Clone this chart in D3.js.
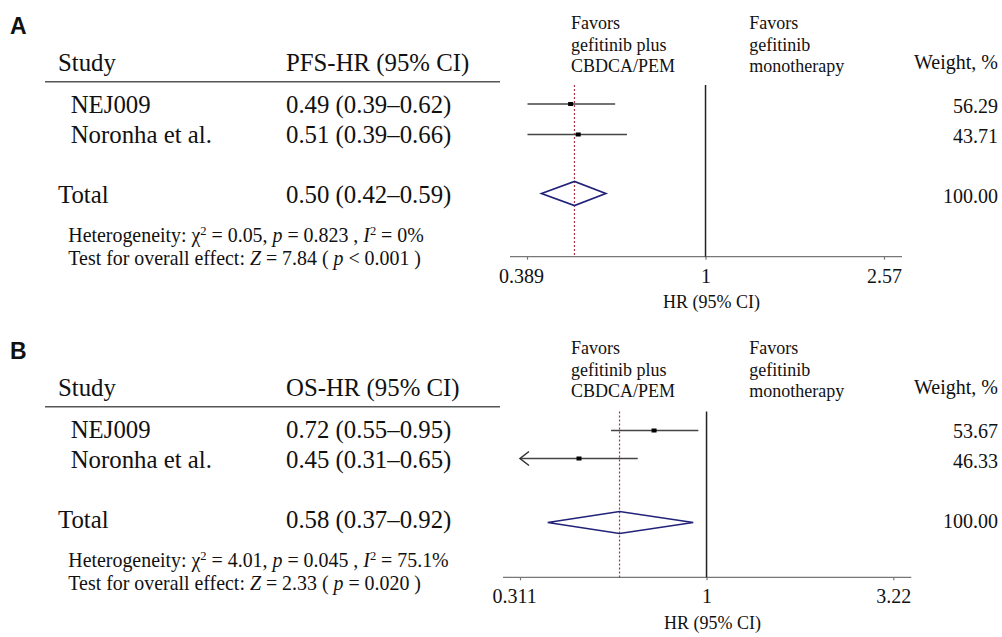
<!DOCTYPE html>
<html>
<head>
<meta charset="utf-8">
<script src="https://cdn.jsdelivr.net/npm/d3@7"></script>
<style>
    body { margin: 0; background: #fff; }
    svg { display: block; }
    text { font-family: "Liberation Serif", "Times New Roman", serif; fill: #111; }
</style>
</head>
<body>
<script>
let studies = ["NEJ009", "Noronha et al."]

let pfsHR = [0.49, 0.51]
let pfsLow = [0.39, 0.39]
let pfsHigh = [0.62, 0.66]
let pfsWeight = ["56.29", "43.71"]
let pfsTotal = [0.50, 0.42, 0.59]
let pfsTicks = [0.389, 1, 2.57]

let osHR = [0.72, 0.45]
let osLow = [0.55, 0.31]
let osHigh = [0.95, 0.65]
let osWeight = ["53.67", "46.33"]
let osTotal = [0.58, 0.37, 0.92]
let osTicks = [0.311, 1, 3.22]

let panels = [
    {
        label: "A", measure: "PFS-HR (95% CI)", hr: pfsHR, low: pfsLow, high: pfsHigh,
        weight: pfsWeight, total: pfsTotal, ticks: pfsTicks, tickText: ["0.389", "1", "2.57"],
        het: ["0.05", "0.823", "0%"], z: ["7.84", "<", "0.001"],
        top: 0, range: [527, 884], axisY: 256.7, lineTop: 85, rows: [104, 134.5, 193.5], dh: 12
    },
    {
        label: "B", measure: "OS-HR (95% CI)", hr: osHR, low: osLow, high: osHigh,
        weight: osWeight, total: osTotal, ticks: osTicks, tickText: ["0.311", "1", "3.22"],
        het: ["4.01", "0.045", "75.1%"], z: ["2.33", "=", "0.020"],
        top: 325, range: [520, 893.3], axisY: 577.3, lineTop: 411.5, rows: [430.5, 458.5, 522.5], dh: 11
    }
]

let w = 1002
let h = 637
let serif = "'Liberation Serif', 'Times New Roman', serif"
let svg = d3.select("body").append("svg")
    .attr("width", w)
    .attr("height", h)

panels.forEach(p=>{
    let g = svg.append("g")
    let t = p.top
    let x = d3.scaleLog()
        .domain([p.ticks[0], p.ticks[2]])
        .range(p.range)

    g.append("text")
        .attr("x", 10).attr("y", t + 33.5)
        .style("font-family", "'Liberation Sans', Arial, sans-serif")
        .style("font-weight", "bold")
        .style("font-size", "23px")
        .text(p.label)

    // table side
    g.append("text").attr("x", 58).attr("y", t + 71).style("font-size", "24.8px").text("Study")
    g.append("text").attr("x", 286).attr("y", t + 71).style("font-size", "24.8px").text(p.measure)
    g.append("line")
        .attr("x1", 45).attr("x2", 500)
        .attr("y1", t + 81.7).attr("y2", t + 81.7)
        .attr("stroke", "#555").attr("stroke-width", 1.5)

    let textY = [t + 113.3, t + 143.3, t + 203.3]
    let rowLabels = studies.concat(["Total"])
    let rowValues = p.hr.map((d, i)=>`${d.toFixed(2)} (${p.low[i].toFixed(2)}\u2013${p.high[i].toFixed(2)})`)
        .concat([`${p.total[0].toFixed(2)} (${p.total[1].toFixed(2)}\u2013${p.total[2].toFixed(2)})`])
    let rowWeights = p.weight.concat(["100.00"])

    g.selectAll(".name")
        .data(rowLabels)
        .enter()
        .append("text")
        .attr("x", (d, i)=>i < 2 ? 70.7 : 58)
        .attr("y", (d, i)=>textY[i])
        .style("font-size", "24.8px")
        .text(d=>d)
    g.selectAll(".val")
        .data(rowValues)
        .enter()
        .append("text")
        .attr("x", 286)
        .attr("y", (d, i)=>textY[i])
        .style("font-size", "24.8px")
        .text(d=>d)
    g.selectAll(".wt")
        .data(rowWeights)
        .enter()
        .append("text")
        .attr("x", 998)
        .attr("y", (d, i)=>textY[i])
        .attr("text-anchor", "end")
        .style("font-family", serif)
        .style("font-size", "20px")
        .text(d=>d)
    g.append("text")
        .attr("x", 998).attr("y", t + 69)
        .attr("text-anchor", "end")
        .style("font-family", serif)
        .style("font-size", "20px")
        .text("Weight, %")

    let het = g.append("text").attr("x", 68.3).attr("y", t + 241.7).style("font-size", "19.9px")
    het.append("tspan").text("Heterogeneity: \u03c7")
    het.append("tspan").attr("dy", -7).style("font-size", "12.5px").text("2")
    het.append("tspan").attr("dy", 7).text(` = ${p.het[0]}, `)
    het.append("tspan").style("font-style", "italic").text("p")
    het.append("tspan").text(` = ${p.het[1]} , `)
    het.append("tspan").style("font-style", "italic").text("I")
    het.append("tspan").attr("dy", -7).style("font-size", "12.5px").text("2")
    het.append("tspan").attr("dy", 7).text(` = ${p.het[2]}`)

    let ztest = g.append("text").attr("x", 68.3).attr("y", t + 265).style("font-size", "19.9px")
    ztest.append("tspan").text("Test for overall effect: ")
    ztest.append("tspan").style("font-style", "italic").text("Z")
    ztest.append("tspan").text(` = ${p.z[0]} ( `)
    ztest.append("tspan").style("font-style", "italic").text("p")
    ztest.append("tspan").text(` ${p.z[1]} ${p.z[2]} )`)

    // favors labels
    let fav1 = ["Favors", "gefitinib plus", "CBDCA/PEM"]
    let fav2 = ["Favors", "gefitinib", "monotherapy"]
    ;[[571, fav1], [749.3, fav2]].forEach(([fx, lines])=>{
        g.selectAll(null)
            .data(lines)
            .enter()
            .append("text")
            .attr("x", fx)
            .attr("y", (d, i)=>t + 29.3 + i * 21.5)
            .style("font-family", serif)
            .style("font-size", "18px")
            .text(d=>d)
    })

    // axis
    let axis = d3.axisBottom(x)
        .tickValues(p.ticks)
        .tickSize(3)
        .tickSizeOuter(0)
        .tickPadding(9)
        .tickFormat((d, i)=>p.tickText[i])
    let ax = g.append("g")
        .attr("transform", `translate(0, ${p.axisY})`)
        .call(axis)
    ax.select(".domain").remove()
    ax.selectAll(".tick line").attr("stroke", "#777").attr("stroke-width", 1.2)
    ax.selectAll(".tick text")
        .style("font-family", serif)
        .style("font-size", "20px")
        .attr("fill", "#111")
        .attr("dx", (d, i)=>i == 0 ? -6 : 0)
    g.append("line")
        .attr("x1", p.range[0] - 17).attr("x2", p.range[1] + 18)
        .attr("y1", p.axisY).attr("y2", p.axisY)
        .attr("stroke", "#777").attr("stroke-width", 1.2)
    g.append("text")
        .attr("x", x(1) + 6).attr("y", p.axisY + 51.3)
        .attr("text-anchor", "middle")
        .style("font-family", serif)
        .style("font-size", "18px")
        .text("HR (95% CI)")

    // no-effect line and pooled estimate line
    g.append("line")
        .attr("x1", x(1)).attr("x2", x(1))
        .attr("y1", p.lineTop).attr("y2", p.axisY)
        .attr("stroke", "#222").attr("stroke-width", 1.5)
    g.append("line")
        .attr("x1", x(p.total[0])).attr("x2", x(p.total[0]))
        .attr("y1", p.lineTop).attr("y2", p.axisY)
        .attr("stroke", "#a8344a").attr("stroke-width", 1.2)
        .attr("stroke-dasharray", "2,2")

    // study CIs
    let lo = x.domain()[0]
    g.selectAll(".ci")
        .data(p.hr)
        .enter()
        .append("line")
        .attr("x1", (d, i)=>x(Math.max(p.low[i], lo)))
        .attr("x2", (d, i)=>x(p.high[i]))
        .attr("y1", (d, i)=>p.rows[i])
        .attr("y2", (d, i)=>p.rows[i])
        .attr("stroke", "#444").attr("stroke-width", 1.5)
    g.selectAll(".arrow")
        .data(p.hr.map((d, i)=>i).filter(i=>p.low[i] < lo))
        .enter()
        .append("path")
        .attr("d", i=>{
            let ax0 = x(lo)
            let ay = p.rows[i]
            return `M${ax0 + 9},${ay - 7}L${ax0},${ay}L${ax0 + 9},${ay + 7}`
        })
        .attr("fill", "none")
        .attr("stroke", "#333").attr("stroke-width", 1.5)
    g.selectAll(".pt")
        .data(p.hr)
        .enter()
        .append("rect")
        .attr("x", d=>x(d) - 2.5)
        .attr("y", (d, i)=>p.rows[i] - 2)
        .attr("width", 5)
        .attr("height", 4)
        .attr("fill", "#000")

    // pooled diamond
    let cy = p.rows[2]
    g.append("path")
        .attr("d", `M${x(p.total[1])},${cy}L${x(p.total[0])},${cy - p.dh}L${x(p.total[2])},${cy}L${x(p.total[0])},${cy + p.dh}Z`)
        .attr("fill", "none")
        .attr("stroke", "#22227a").attr("stroke-width", 1.7)
})
</script>
</body>
</html>
